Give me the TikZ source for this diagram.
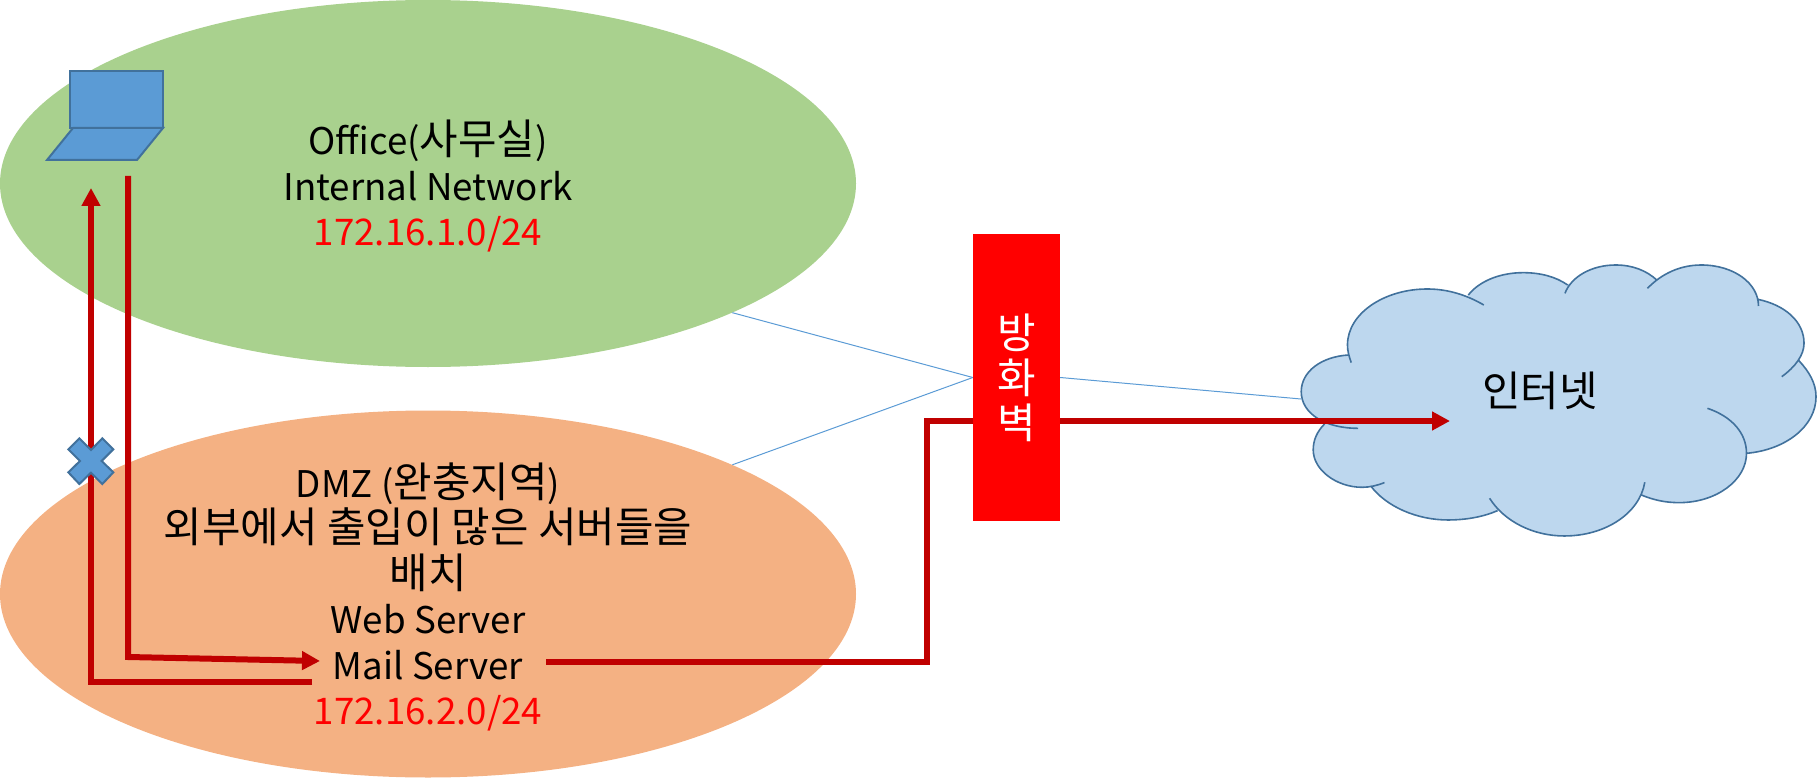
\documentclass[tikz,border=0pt]{standalone}
\usepackage{fontspec}
\setmainfont{Noto Sans CJK KR}
\newfontfamily\krfont[Scale=1.14]{Noto Sans CJK KR}
\newcommand{\kr}[1]{{\krfont #1}}
\usetikzlibrary{arrows.meta,shapes.geometric}

\definecolor{officegreen}{HTML}{A9D18E}
\definecolor{dmzorange}{HTML}{F4B183}
\definecolor{shapeblue}{HTML}{5B9BD5}
\definecolor{shapeedge}{HTML}{41719C}
\definecolor{cloudblue}{HTML}{BDD7EE}
\definecolor{routered}{HTML}{C00000}

\tikzset{
  zone/.style={ellipse, minimum width=856pt, minimum height=367pt, inner sep=0pt},
  zonetext/.style={inner sep=0pt, align=center, font=\fontsize{36.7}{45.5}\selectfont},
  wall/.style={fill=red, text=white, minimum width=87pt, minimum height=287pt, inner sep=0pt, align=center,
    font=\fontsize{36.7}{45}\selectfont},
  netlabel/.style={inner sep=0pt, font=\fontsize{36.7}{45}\selectfont},
  thinlink/.style={shapeblue, line width=1pt},
  route/.style={routered, line width=6pt},
  routearrow/.style={route, -{Triangle[length=18pt,width=18pt]}},
  blueshape/.style={fill=shapeblue, draw=shapeedge, line width=2pt, line join=miter},
}

\begin{document}
\begin{tikzpicture}[x=1pt,y=-1pt]
      \useasboundingbox (0,0) rectangle (1817,778);

      % the two zones
      \node (office) [zone, fill=officegreen] at (428,183.5) {};
      \node (dmz) [zone, fill=dmzorange] at (428,594) {};

      \node (officetext) [zonetext] at (428,186)
        {Office(\kr{사무실})\\Internal Network\\\textcolor{red}{172.16.1.0/24}};
      \node (dmztext) [zonetext] at (428,597)
        {DMZ (\kr{완충지역})\\\kr{외부에서 출입이 많은 서버들을}\\\kr{배치}\\Web Server\\Mail Server\\\textcolor{red}{172.16.2.0/24}};

      % cloud, numbers read off in a 3x crop
      \begin{scope}[shift={(1280,250)},x=0.3425pt,y=-0.3333pt]
        \filldraw [cloudblue, line width=2pt, line join=round] (200,315) -- (130,522) -- (265,708) -- (635,782) -- (612,745) -- (1055,735)
          -- (1362,610) -- (1515,332) -- (1395,148) -- (1100,90) -- (840,105) -- (550,135) -- (595,165) -- cycle;
        \draw [fill=cloudblue, draw=shapeedge, line width=1.6pt]
          (200,315) .. controls (120,320) and (62,365) .. (62,425) .. controls (62,490) and (130,535) .. (228,535)
          (130,522) .. controls (108,545) and (97,570) .. (97,600) .. controls (97,660) and (165,712) .. (240,712) .. controls (262,712) and (285,706) .. (305,698)
          (265,708) .. controls (310,770) and (400,810) .. (490,810) .. controls (545,810) and (595,800) .. (635,782)
          (612,745) .. controls (655,815) and (740,858) .. (830,858) .. controls (950,858) and (1050,790) .. (1065,697)
          (1055,735) .. controls (1090,750) and (1125,758) .. (1165,758) .. controls (1275,758) and (1362,690) .. (1362,610) .. controls (1362,550) and (1320,500) .. (1248,475)
          (1362,610) .. controls (1475,600) and (1565,530) .. (1565,440) .. controls (1565,400) and (1545,365) .. (1515,332)
          (1465,380) .. controls (1505,350) and (1530,315) .. (1530,280) .. controls (1530,215) and (1475,165) .. (1395,148)
          (1397,168) .. controls (1397,100) and (1325,45) .. (1230,45) .. controls (1170,45) and (1115,70) .. (1073,115)
          (1100,90) .. controls (1070,62) and (1030,45) .. (980,45) .. controls (910,45) and (850,80) .. (832,130)
          (840,105) .. controls (805,80) and (760,68) .. (710,68) .. controls (640,68) and (580,95) .. (550,135)
          (595,165) .. controls (545,135) and (490,117) .. (430,117) .. controls (305,117) and (197,190) .. (197,285) .. controls (197,305) and (202,320) .. (208,338);
      \end{scope}
      \node (inet) [netlabel] at (1540,391) {\kr{인터넷}};

      \coordinate (cloudedge) at (1301,399);
      \coordinate (cloudtip) at (1450,421);
      \coordinate (mailout) at (546,662);
      \coordinate (mailin) at (320,661);
      \coordinate (mailback) at (312,682);
      \coordinate (pcout) at (128,176);
      \coordinate (pcin) at (91,188);

      % route to the internet runs behind the firewall
      \draw [routearrow] (mailout) -| (927,421) -- (cloudtip);

      \node (fw) [wall] at (1016.5,377.5) {\kr{방}\\\kr{화}\\\kr{벽}};

      \path [thinlink] (fw.west) edge (office.-23.2);
      \path [thinlink] (fw.west) edge (dmz.23);
      \path [thinlink] (fw.east) edge (cloudedge);

      % routes between pc and dmz
      \draw [routearrow] (pcout) -- (128,657) -- (mailin);
      \draw [routearrow] (mailback) -- (91,682) -- (pcin);

      % laptop
      \draw [blueshape] (70,71) rectangle (163,128);
      \draw [blueshape] (73,128) -- (163,128) -- (137,160) -- (47,160) -- cycle;

      % blocked mark
      \begin{scope}[shift={(50,420)},x=0.3333pt,y=-0.3333pt]
        \draw [blueshape] (55,88) -- (88,55) -- (123,90) -- (157,55) -- (190,88) -- (155,123)
          -- (190,157) -- (157,192) -- (123,158) -- (88,192) -- (55,157) -- (90,123) -- cycle;
      \end{scope}
\end{tikzpicture}
\end{document}
